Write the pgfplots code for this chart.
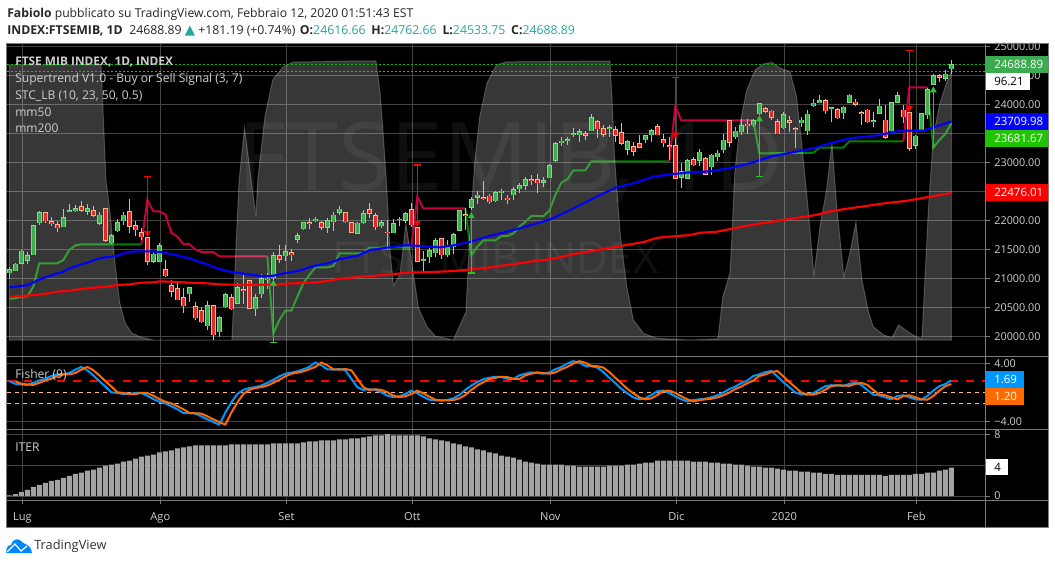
\documentclass[border=0pt]{standalone}
\usepackage{pgfplots}
\usepackage{pgfplotstable}
\usepackage{fontspec}
\setmainfont{Open Sans}
\newfontfamily\symfont{DejaVu Sans}
\pgfplotsset{compat=1.18}
\definecolor{gridc}{HTML}{434343}
\definecolor{framec}{HTML}{7A7A7A}
\definecolor{txtc}{HTML}{CFCFCF}
\definecolor{upfill}{HTML}{3FAE4A}
\definecolor{upedge}{HTML}{86D98A}
\definecolor{dnfill}{HTML}{E02B20}
\definecolor{dnedge}{HTML}{FFB488}
\definecolor{wick}{HTML}{BEBEBE}
\definecolor{stup}{HTML}{008000}
\definecolor{stdn}{HTML}{C8003C}
\definecolor{teal}{HTML}{26A69A}
\definecolor{fishb}{HTML}{0096FF}
\definecolor{fisho}{HTML}{FF6A00}
\definecolor{lastlab}{HTML}{3CAA4E}
\definecolor{stlab}{HTML}{21C400}
\definecolor{buyc}{HTML}{30C030}

\pgfplotstableread{
i o h l c
0 21103 21196 21000 21150
1 21138 21265 21138 21253
2 21265 21495 21253 21477
3 21322 21466 21253 21403
4 21414 21926 21414 21909
5 21966 22173 21932 22144
6 22144 22156 21966 22000
7 21989 22058 21909 21949
8 21937 22000 21811 21880
9 21897 22202 21886 22058
10 22156 22288 22144 22179
11 22184 22271 22156 22202
12 22242 22340 22144 22179
13 22161 22288 22098 22213
14 22179 22253 22058 22093
15 21949 22150 21920 22093
16 22213 22213 21633 21656
17 21621 21770 21598 21747
18 21828 22029 21805 21972
19 22000 22150 21926 22093
20 22161 22374 21782 21903
21 21914 22000 21742 21845
22 21799 21868 21667 21724
23 21713 21724 21241 21299
24 21305 21454 21265 21425
25 21305 21610 21288 21575
26 21161 21322 21035 21052
27 20885 20977 20690 20782
28 20833 20920 20638 20638
29 20678 20833 20414 20534
30 20741 20851 20597 20851
31 20523 20592 20287 20327
32 20454 20517 20241 20258
33 20189 20609 20115 20540
34 20540 20540 19942 20034
35 20086 20356 20000 20333
36 20517 20747 20488 20730
37 20678 20736 20460 20483
38 20575 20920 20563 20851
39 20816 21063 20563 20793
40 20971 20971 20483 20488
41 20483 20730 20362 20678
42 20741 21080 20667 21006
43 20994 21092 20822 20983
44 21017 21460 20977 21403
45 21403 21575 21264 21334
46 21397 21575 21305 21472
47 21449 21506 21310 21420
48 21679 21782 21610 21747
49 21862 21983 21840 21972
50 21972 22040 21857 21954
51 22006 22058 21978 22024
52 21972 22000 21840 21880
53 21891 22040 21794 22000
54 21983 22156 21828 22093
55 22143 22253 22098 22201
56 22143 22155 21965 21982
57 21971 21982 21793 21804
58 21781 21982 21770 21959
59 21965 22184 21942 22126
60 22195 22299 22040 22126
61 22092 22126 21839 21896
62 21913 22011 21867 21971
63 21804 22011 21493 21793
64 21793 22022 21781 21953
65 22017 22057 21913 22028
66 22011 22155 21953 22126
67 22195 22299 21896 21930
68 21884 21896 21286 21304
69 21310 21482 21137 21333
70 21379 21522 21275 21488
71 21447 21695 21379 21660
72 21695 21706 21338 21413
73 21413 21666 21379 21539
74 21551 21793 21425 21764
75 21839 22189 21827 22178
76 22109 22212 21839 22086
77 22235 22413 22184 22367
78 22402 22517 22287 22442
79 22396 22684 22356 22379
80 22425 22460 22287 22327
81 22345 22511 22327 22488
82 22488 22540 22356 22511
83 22390 22442 22287 22373
84 22448 22574 22356 22540
85 22552 22644 22482 22609
86 22609 22759 22528 22713
87 22713 22787 22615 22695
88 22713 22805 22471 22655
89 22661 22759 22586 22695
90 22741 22971 22730 22954
91 23046 23362 23017 23333
92 23351 23437 23287 23374
93 23379 23448 23305 23397
94 23483 23592 23437 23506
95 23483 23575 23356 23540
96 23506 23552 23391 23471
97 23552 23840 23540 23782
98 23713 23736 23431 23586
99 23592 23650 23448 23489
100 23586 23650 23448 23609
101 23575 23632 23362 23471
102 23523 23690 23305 23333
103 23230 23391 23132 23368
104 23276 23362 23121 23195
105 23333 23477 23247 23264
106 23397 23477 23333 23471
107 23483 23581 23362 23558
108 23627 23661 23471 23483
109 23402 23494 23276 23345
110 23293 23437 23046 23276
111 23299 23420 22713 22730
112 22747 22989 22569 22850
113 22736 23058 22724 23040
114 23057 23092 22943 22966
115 23046 23242 22943 23184
116 23075 23104 22799 22804
117 22931 23144 22793 23132
118 23104 23219 23034 23167
119 23224 23494 23161 23391
120 23730 23736 23276 23351
121 23448 23610 23402 23546
122 23535 23748 23477 23644
123 23667 23748 23494 23644
124 23655 23759 23610 23730
125 23845 24012 23822 24012
126 23926 23966 23862 23891
127 23891 23908 23736 23782
128 23713 23748 23494 23500
129 23604 23874 23575 23834
130 23719 23805 23535 23702
131 23592 23610 23247 23569
132 23690 23794 23610 23736
133 23552 23908 23477 23839
134 23983 24092 23966 24024
135 24035 24167 24024 24075
136 24075 24092 23839 23897
137 23937 23966 23707 23949
138 23920 23937 23748 23776
139 23862 23977 23748 23960
140 24046 24184 24035 24167
141 24046 24092 23977 24006
142 23868 23897 23650 23851
143 23908 23926 23690 23707
144 23707 23880 23610 23730
145 23851 24098 23839 23977
146 23736 23995 23402 23437
147 23552 24052 23517 24041
148 24046 24219 24035 24161
149 23908 23995 23690 23793
150 23868 23880 23207 23242
151 23299 23477 23230 23460
152 23564 23862 23552 23845
153 23828 24294 23759 24254
154 24346 24524 24334 24495
155 24501 24524 24397 24472
156 24449 24599 24414 24524
157 24616.66 24762.66 24533.75 24688.89
}\candles

\begin{document}
\begin{tikzpicture}
\begin{scope}[x=0.75pt,y=-0.75pt]
\path[use as bounding box,fill=white] (0,0) rectangle (1055,562);
\fill[black] (6.5,43.5) rectangle (1048,527.5);
\end{scope}

\pgfplotsset{
 pane/.style={scale only axis,width=733.875pt,anchor=south west,
   xmin=-0.388,xmax=162.695,
   axis line style={draw=none},
   tick style={color=framec,line width=0.6pt},
   major tick length=3pt,
   tick align=outside,
   scaled y ticks=false,
   grid=major,grid style={color=gridc,line width=0.7pt},
   ytick pos=right,yticklabel pos=right,
   y tick label style={text=txtc,font=\fontsize{8.1}{10}\selectfont,inner sep=1pt,xshift=2.5pt},
   x tick label style={text=txtc,font=\fontsize{8.3}{10}\selectfont},
   xtick={2.17,25.17,46.17,67.17,90.17,111.17,129.17,151.17},
 },
 overlay/.style={scale only axis,width=733.875pt,height=234.375pt,anchor=south west,
   at={(5.25pt,-267.375pt)},xmin=-0.388,xmax=162.695,hide axis},
 errbody/.style={draw=none,mark=none,error bars/.cd,y dir=both,y explicit,error mark=none},
}

% ---- price pane: background grid and price scale
\begin{axis}[pane,at={(5.25pt,-267.375pt)},height=234.375pt,
  ymin=19658.6,ymax=25046.6,
  xticklabels={},xtick pos=bottom,
  ytick={20000,20500,21000,21500,22000,22500,23000,23500,24000,24500,25000},
  yticklabels={20000.00,20500.00,21000.00,21500.00,22000.00,,23000.00,,24000.00,24500.00,25000.00}]
\addplot[draw=none] coordinates {(0,20000)};
\end{axis}

% watermark
\begin{scope}[x=0.75pt,y=-0.75pt]
\node[anchor=base west,inner sep=0,text=white,text opacity=0.06,font=\fontsize{71}{74}\selectfont] at (237,190) {FTSEMIB, 1D};
\node[anchor=base west,inner sep=0,text=white,text opacity=0.06,font=\fontsize{33}{36}\selectfont] at (332,273) {FTSE MIB INDEX};
\end{scope}

% ---- Supertrend lines, below the STC veil
\begin{axis}[overlay,ymin=19658.6,ymax=25046.6]
\addplot[stup,line width=1.5pt] coordinates {(0,20655)(1,20661)(2,20690)(3,20695)(4,20862)(5,21265)(6,21265)(7,21265)(8,21265)(9,21322)(10,21495)(11,21575)(12,21592)(22,21592)};
\addplot[stdn,line width=1.5pt] coordinates {(22,21592)(23,22357)(24,22162)(25,22162)(26,22110)(27,21794)(28,21725)(29,21598)(30,21598)(31,21506)(32,21460)(33,21460)(34,21460)(35,21385)(43,21385)};
\addplot[stup,line width=1.5pt] coordinates {(43,21385)(44,20057)(45,20287)(46,20448)(47,20448)(48,20690)(49,20920)(50,21063)(51,21196)(52,21196)(53,21196)(54,21219)(55,21437)(59,21437)(60,21534)(67,21534)};
\addplot[stdn,line width=1.5pt] coordinates {(67,21534)(68,22413)(69,22212)(76,22212)};
\addplot[stup,line width=1.5pt] coordinates {(76,22212)(77,21407)(78,21551)(79,21660)(80,21660)(81,21660)(82,21735)(83,21735)(84,21781)(85,21896)(86,21982)(87,22080)(88,22080)(89,22080)(90,22172)(91,22442)(92,22655)(93,22712)(94,22868)(95,22868)(96,22868)(97,23023)(110,23023)};
\addplot[stdn,line width=1.5pt] coordinates {(110,23023)(111,23966)(112,23730)(124,23730)};
\addplot[stup,line width=1.5pt] coordinates {(124,23730)(125,23161)(134,23172)(135,23259)(139,23259)(140,23368)(149,23368)};
\addplot[stdn,line width=1.5pt] coordinates {(149,23368)(150,24299)(153,24299)};
\addplot[stup,line width=1.5pt] coordinates {(153,24299)(154,23259)(155,23391)(156,23495)(157,23681.67)};
\end{axis}

% ---- STC_LB area on its own 0-100 scale
\begin{axis}[overlay,ymin=-5.914,ymax=106.09]
\addplot[fill=white,fill opacity=0.215,draw=white,draw opacity=0.22,line width=0.75pt] coordinates {
(0,98.6)(15.3,98.6)(16.1,57.3)(16.8,45.5)(17.6,27.6)(18.4,13.3)(19.3,6.1)(20.4,2.5)(21.8,1.1)(24,0)(37.1,0)(37.3,9.7)(37.9,39.4)(38.3,57.3)(39.2,76)(41.1,44.2)(41.4,57.3)(42.6,80)(43.9,93.2)(45.6,97.8)(47.3,99.6)(56.8,100)(61.1,100)(61.8,88.4)(62.3,74.2)(62.9,54.9)(63.4,33.4)(64,19.5)(65.1,23.3)(66.1,41.8)(67,28.7)(68.2,11.4)(69.6,4.8)(71,1.4)(74,0)(76.1,10.1)(76.8,40.6)(77.6,64.5)(78.4,80)(79.6,92)(81.2,98.6)(82.9,99.7)(100.1,100)(100.4,88.4)(100.9,64.5)(101.8,38.2)(102.9,19.1)(104,7.2)(105.7,2.4)(107.9,0.6)(113.4,0)(118.1,0.4)(118.9,15.4)(120.1,24)(120.4,35.8)(120.9,59.9)(121.8,77.8)(122.9,89.6)(124.3,96.8)(125.6,98.9)(127.1,99.5)(128.4,97.5)(130.1,96.2)(131.2,87.2)(132,71.7)(133.1,47.7)(134.1,23.3)(135.1,40.5)(136.2,53.8)(137.1,70.6)(137.9,47.7)(139.1,22.6)(140.1,31.2)(141.1,42.3)(142.1,21.5)(143.2,10)(144,4.7)(145.7,1.8)(147.1,0.8)(148.2,5.4)(150.1,2.5)(151.2,1.1)(152.1,0.4)(153.2,47.8)(154,72.9)(155.1,84.9)(156.2,92.1)(157,96.21)} \closedcycle;
\addplot[color=gray,dash pattern=on 1.5pt off 1.5pt,line width=0.6pt] coordinates {(-0.388,96.21)(162.695,96.21)};
\end{axis}

% ---- candles, averages, signals
\begin{axis}[overlay,ymin=19658.6,ymax=25046.6]
\addplot[color=green!75!black,dash pattern=on 1.5pt off 1.5pt,line width=0.6pt] coordinates {(-0.388,24688.89)(162.695,24688.89)};
% wicks
\addplot[errbody,error bar style={line width=0.75pt,color=wick}]
  table[x=i,y expr={(\thisrow{h}+\thisrow{l})/2},y error expr={(\thisrow{h}-\thisrow{l})/2}] {\candles};
% bodies, up
\addplot[restrict expr to domain={\thisrow{c}-\thisrow{o}}{0:100000},errbody,error bar style={line width=3.5pt,color=upedge}]
  table[x=i,y expr={(\thisrow{o}+\thisrow{c})/2},y error expr={abs(\thisrow{c}-\thisrow{o})/2+9}] {\candles};
\addplot[restrict expr to domain={\thisrow{c}-\thisrow{o}}{0:100000},errbody,error bar style={line width=2.3pt,color=upfill}]
  table[x=i,y expr={(\thisrow{o}+\thisrow{c})/2},y error expr={max(abs(\thisrow{c}-\thisrow{o})/2-3,0.1)}] {\candles};
% bodies, down
\addplot[restrict expr to domain={\thisrow{c}-\thisrow{o}}{-100000:-0.001},errbody,error bar style={line width=3.5pt,color=dnedge}]
  table[x=i,y expr={(\thisrow{o}+\thisrow{c})/2},y error expr={abs(\thisrow{c}-\thisrow{o})/2+9}] {\candles};
\addplot[restrict expr to domain={\thisrow{c}-\thisrow{o}}{-100000:-0.001},errbody,error bar style={line width=2.3pt,color=dnfill}]
  table[x=i,y expr={(\thisrow{o}+\thisrow{c})/2},y error expr={max(abs(\thisrow{c}-\thisrow{o})/2-3,0.1)}] {\candles};
% mm200
\addplot[color=red,line width=1.6pt,line join=round] coordinates {(0,20690)(2,20701)(4,20718)(6,20741)(8,20776)(10,20793)(12,20822)(14,20845)(16,20862)(18,20891)(20,20902)(22,20931)(24,20937)(25,20954)(27,20948)(29,20937)(31,20925)(33,20920)(35,20902)(37.3,20897)(40,20897)(43,20897)(45,20902)(47,20920)(49,20925)(51,20937)(53,20960)(55,20999)(58.4,21034)(62.4,21062)(66.2,21103)(70.1,21114)(74,21131)(77.4,21166)(80.1,21195)(84,21252)(87.9,21310)(90.7,21344)(94,21425)(98,21494)(101.8,21562)(105.7,21632)(108,21706)(111.2,21735)(113.4,21752)(115.1,21792)(117.9,21810)(122.9,21913)(128.4,22005)(134,22091)(136.8,22161)(139.6,22207)(142.3,22247)(145.7,22298)(149.6,22344)(153.4,22413)(157,22476.01)};
% mm50
\addplot[color=blue,line width=1.6pt,line join=round] coordinates {(0,20851)(2,20874)(3,20891)(4,20931)(5,20989)(6,21023)(7,21057)(8,21092)(9,21121)(10,21178)(11,21213)(12,21247)(13,21276)(14,21316)(15,21351)(16,21368)(17,21380)(18,21397)(19,21437)(20,21460)(21,21471)(24,21471)(25,21460)(26,21449)(27,21420)(28,21403)(29,21374)(30,21351)(31,21316)(32,21282)(33,21247)(34,21201)(35,21167)(36,21144)(37,21115)(38,21104)(39,21086)(40,21075)(41,21057)(42,21046)(43,21046)(44,21052)(45,21075)(46,21098)(47,21115)(48,21132)(49,21161)(50,21196)(51,21224)(52,21241)(53,21264)(54,21293)(55,21338)(57.9,21390)(60.1,21493)(62.9,21534)(66.2,21580)(69,21562)(71.8,21540)(74,21574)(76.8,21637)(79,21706)(81.8,21781)(84.6,21856)(87.9,21953)(90.1,22022)(92.9,22155)(95.7,22298)(98.4,22442)(101.2,22574)(104,22644)(107.3,22758)(110.7,22805)(113,22830)(116.8,22850)(120.7,22920)(123.4,22988)(126.8,23104)(129.6,23161)(134,23247)(136.8,23334)(140.1,23420)(145.1,23477)(148.4,23552)(152.3,23552)(157,23709.98)};
% sell signals: stem, cap, head
\addplot[errbody,error bar style={line width=0.9pt,color=red}] table[x=i,y=m,y error=e] {
i m e
23 22256 504
68 22443 517
111 23960 512
150 24419 512
};
\addplot[only marks,mark=-,mark size=2.5pt,mark options={color=red,line width=0.8pt}] coordinates {(23,22760)(68,22960)(111,24472)(150,24931)};
\addplot[only marks,mark=triangle*,mark size=2.6pt,mark options={rotate=180,color=red,fill=red}] coordinates {(23,21790)(68,21963)(111,23485)(150,23944)};
% buy signals: stem, cap, head
\addplot[errbody,error bar style={line width=0.9pt,color=buyc}] table[x=i,y=m,y error=e] {
i m e
44 20425 522
77 21607 509
125 23271 512
154 23780 504
};
\addplot[only marks,mark=-,mark size=2.5pt,mark options={color=buyc,line width=0.8pt}] coordinates {(44,19903)(77,21098)(125,22759)};
\addplot[only marks,mark=triangle*,mark size=2.6pt,mark options={color=buyc,fill=buyc}] coordinates {(44,20911)(77,22079)(125,23746)(154,24246)};
\end{axis}

% ---- Fisher pane
\pgfplotstableread{
i v
0 1.6
1 1.22
2 1.13
3 1.08
4 1.36
5 1.69
6 1.93
7 2.31
8 2.54
9 2.54
10 2.73
11 3.2
12 3.58
13 3.11
14 2.4
15 1.6
16 0.85
17 0.05
18 -0.05
19 -0.19
20 -0.19
21 -0.05
22 -0.05
23 -0.43
24 -0.9
25 -1.27
26 -1.51
27 -1.89
28 -2.31
29 -2.83
30 -2.87
31 -2.92
32 -3.3
33 -3.72
34 -4.1
35 -4.47
36 -2.78
37 -1.37
38 -0.19
39 0.37
40 0.66
41 0.75
42 0.99
43 1.36
44 1.79
45 2.26
46 2.63
47 2.78
48 2.96
49 3.25
50 3.58
51 4.19
52 3.81
53 3.25
54 3.2
55 3.29
56 3.11
57 1.93
58 0.75
59 0.37
60 0.47
61 0.37
62 0.05
63 -0.43
64 -0.61
65 -0.52
66 -0.19
67 0.28
68 -0.1
69 -0.57
70 -0.99
71 -1.08
72 -1.08
73 -1.04
74 -0.8
75 -0.33
76 0.37
77 0.99
78 1.46
79 1.88
80 2.07
81 2.21
82 2.16
83 1.93
84 1.88
85 2.4
86 2.63
87 2.82
88 2.73
89 2.63
90 2.82
91 3.25
92 3.58
93 4.05
94 4.38
95 4.14
96 3.72
97 3.67
98 3.48
99 2.87
100 2.07
101 1.32
102 0.52
103 -0.1
104 -0.66
105 -0.94
106 -0.8
107 -0.33
108 0.19
109 0.28
110 -0.05
111 -0.52
112 -0.94
113 -1.23
114 -1.04
115 -0.94
116 -0.85
117 -0.66
118 -0.38
119 0
120 0.5
121 0.85
122 1.32
123 1.69
124 2.31
125 2.54
126 2.87
127 3.01
128 2.26
129 1.46
130 0.75
131 0
132 -0.24
133 -0.28
134 -0.05
135 0.42
136 0.89
137 1.03
138 0.99
139 0.94
140 1.22
141 1.36
142 1.08
143 0.37
144 -0.28
145 -0.38
146 -0.66
147 -0.94
148 -0.47
149 -0.38
150 -0.66
151 -0.94
152 -0.99
153 -0.47
154 0.28
155 0.89
156 1.2
157 1.69
}\fisher
\begin{axis}[pane,at={(5.25pt,-322.05pt)},height=54.675pt,
  ymin=-5.125,ymax=5.028,
  xticklabels={},xtick pos=bottom,
  ytick={-4,4},yticklabels={−4.00,4.00}]
\addplot[color=dnedge,line width=0.7pt,dash pattern=on 3.2pt off 2.8pt] coordinates {(-0.388,0.08)(162.695,0.08)};
\addplot[color=dnedge,line width=0.7pt,dash pattern=on 3.2pt off 2.8pt] coordinates {(-0.388,-1.45)(162.695,-1.45)};
\addplot[color=red,line width=1.5pt,dash pattern=on 6.2pt off 6.2pt] coordinates {(-0.388,1.6)(162.695,1.6)};
\addplot[color=fishb,line width=1.5pt,line join=round] table[x=i,y=v] {\fisher};
\addplot[color=fisho,line width=1.5pt,line join=round,restrict x to domain=0:157] table[x expr={\thisrow{i}+1},y=v] {\fisher};
\end{axis}

% ---- ITER pane
\begin{axis}[pane,at={(5.25pt,-375.3pt)},height=53.25pt,
  ymin=-0.571,ymax=8.65,
  ytick={0,4,8},yticklabels={0,,8},
  xtick pos=bottom,
  xticklabels={Lug,Ago,Set,Ott,Nov,Dic,2020,Feb},
  x tick label style={yshift=-2.5pt}]
\addplot[ybar,bar width=3.7pt,fill=black!36,draw=none] coordinates {
(0,.09)(1,.26)(2,.53)(3,.79)(4,1.18)(5,1.45)(6,1.71)(7,1.97)(8,2.11)(9,2.37)
(10,2.63)(11,2.89)(12,3.03)(13,3.29)(14,3.42)(15,3.68)(16,3.95)(17,4.08)(18,4.21)(19,4.47)
(20,4.61)(21,4.87)(22,5.13)(23,5.26)(24,5.39)(25,5.66)(26,5.79)(27,5.92)(28,6.18)(29,6.32)
(30,6.45)(31,6.58)(32,6.58)(33,6.58)(34,6.58)(35,6.58)(36,6.58)(37,6.71)(38,6.71)(39,6.71)
(40,6.71)(41,6.71)(42,6.71)(43,6.71)(44,6.84)(45,6.84)(46,6.84)(47,6.84)(48,6.84)(49,6.97)
(50,7.11)(51,7.11)(52,7.24)(53,7.24)(54,7.24)(55,7.37)(56,7.37)(57,7.5)(58,7.5)(59,7.63)
(60,7.76)(61,7.89)(62,7.89)(63,8.03)(64,7.89)(65,7.89)(66,7.89)(67,7.89)(68,7.89)(69,7.76)
(70,7.5)(71,7.37)(72,7.24)(73,7.11)(74,6.84)(75,6.71)(76,6.45)(77,6.32)(78,6.05)(79,5.92)
(80,5.66)(81,5.53)(82,5.26)(83,5.13)(84,5)(85,4.74)(86,4.47)(87,4.34)(88,4.21)(89,4.08)
(90,4.08)(91,4.08)(92,4.08)(93,3.95)(94,3.95)(95,3.82)(96,3.82)(97,3.82)(98,3.82)(99,3.82)
(100,3.95)(101,3.95)(102,3.95)(103,4.08)(104,4.08)(105,4.21)(106,4.34)(107,4.34)(108,4.6)(109,4.6)
(110,4.6)(111,4.6)(112,4.6)(113,4.6)(114,4.47)(115,4.47)(116,4.47)(117,4.34)(118,4.34)(119,4.21)
(120,4.21)(121,4.08)(122,4.08)(123,3.95)(124,3.82)(125,3.82)(126,3.68)(127,3.68)(128,3.55)(129,3.42)
(130,3.29)(131,3.29)(132,3.16)(133,3.16)(134,3.03)(135,3.03)(136,2.89)(137,2.89)(138,2.76)(139,2.76)
(140,2.76)(141,2.76)(142,2.76)(143,2.76)(144,2.76)(145,2.76)(146,2.63)(147,2.76)(148,2.76)(149,2.76)
(150,2.76)(151,2.89)(152,2.89)(153,3.03)(154,3.03)(155,3.29)(156,3.42)(157,3.68)};
\end{axis}

% ---- frame, texts and value tags
\begin{scope}[x=0.75pt,y=-0.75pt]
\draw[framec,line width=0.75pt] (6.5,43.5) rectangle (1048,527.5);
\draw[framec,line width=0.75pt] (985.5,43.5) -- (985.5,527.5);
\draw[framec,line width=0.75pt] (6.5,356.5) -- (1048,356.5);
\draw[framec,line width=0.75pt] (6.5,429.4) -- (1048,429.4);
\draw[framec,line width=0.75pt] (6.5,500.4) -- (1048,500.4);

\newcommand{\lab}[6]{\fill[#1] (986,#3) rectangle (#2,#4);
  \node[anchor=west,inner sep=0,text=#5,font=\fontsize{8.6}{10}\selectfont] at (994,{(#3+#4)/2}) {#6};}
\lab{lastlab}{1048}{56}{72.7}{white}{24688.89}
\lab{white}{1030}{72.7}{90}{black}{96.21}
\lab{blue}{1048}{113}{130}{white}{23709.98}
\lab{stlab}{1048}{130}{147}{white}{23681.67}
\lab{red}{1048}{184}{200.7}{white}{22476.01}
\lab{fishb}{1024}{371.3}{388.2}{white}{1.69}
\lab{fisho}{1024}{388.2}{405.4}{white}{1.20}
\lab{white}{1008}{458.5}{475.4}{black}{4}

\tikzset{leg/.style={anchor=base west,inner sep=0,text=txtc,font=\fontsize{9.05}{11}\selectfont}}
\node[leg,font=\fontsize{8.9}{11}\selectfont\bfseries] at (15,65) {FTSE MIB INDEX, 1D, INDEX};
\node[leg] at (15,82) {Supertrend V1.0 - Buy or Sell Signal (3, 7)};
\node[leg] at (15,99) {STC\_LB (10, 23, 50, 0.5)};
\node[leg] at (15,116) {mm50};
\node[leg] at (15,132.5) {mm200};
\node[leg] at (15,378) {Fisher (9)};
\node[leg] at (15,451) {ITER};

\node[anchor=base west,inner sep=0,text=black!85,font=\fontsize{9.15}{11}\selectfont] at (7,17)
  {\textbf{Fabiolo} pubblicato su TradingView.com, Febbraio 12, 2020 01:51:43 EST};
\node[anchor=base west,inner sep=0,text=black!85,font=\fontsize{9.2}{11}\selectfont] at (7,34)
  {\textbf{INDEX:FTSEMIB, 1D}\hspace{5pt}24688.89 \textcolor{teal}{\symfont\fontsize{10}{10}\selectfont ▲} +181.19 (+0.74\%) \hspace{1pt}\textbf{O:}\textcolor{teal}{24616.66} \hspace{2pt}\textbf{H:}\textcolor{teal}{24762.66} \hspace{2pt}\textbf{L:}\textcolor{teal}{24533.75} \hspace{2pt}\textbf{C:}\textcolor{teal}{24688.89}};

% TradingView logo
\fill[fishb!90!blue] (6,553) -- (6.5,549) .. controls (8,545) and (10,545) .. (11,545) .. controls (12,540) and (18,537) .. (21,541) .. controls (23,544) and (29,544) .. (31,549) -- (32,553) -- cycle;
\draw[white,line width=0.9pt] (7,552) -- (15,544) -- (21,551) -- (27,546);
\node[anchor=base west,inner sep=0,text=black!80,font=\fontsize{9.6}{11}\selectfont] at (34,549) {TradingView};
\end{scope}
\end{tikzpicture}
\end{document}
